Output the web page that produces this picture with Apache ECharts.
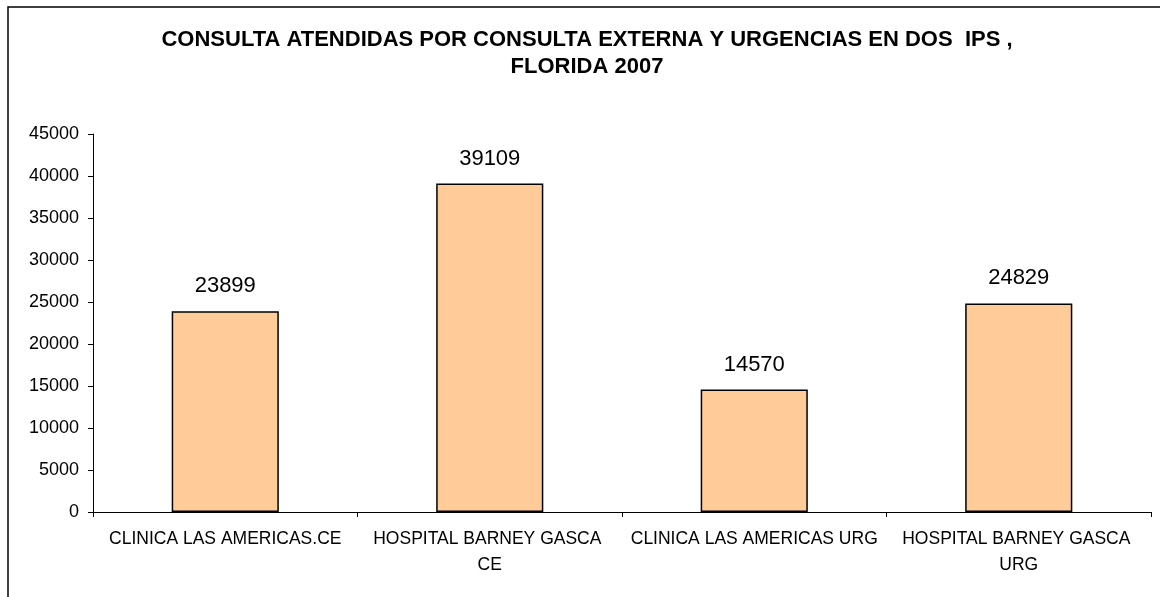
<!DOCTYPE html>
<html>
<head>
<meta charset="utf-8">
<script src="https://cdn.jsdelivr.net/npm/echarts@6/dist/echarts.min.js"></script>
<style>
  html, body { margin: 0; padding: 0; background: #fff; }
  #chart { width: 1160px; height: 597px; }
</style>
</head>
<body>
<div id="chart"></div>
<script>
var titleText = "CONSULTA ATENDIDAS POR CONSULTA EXTERNA Y URGENCIAS EN DOS  IPS ,\nFLORIDA 2007";
var categories = [
  "CLINICA LAS AMERICAS.CE",
  "HOSPITAL BARNEY GASCA CE",
  "CLINICA LAS AMERICAS URG",
  "HOSPITAL BARNEY GASCA URG"
];
var consultas = [23899, 39109, 14570, 24829];

var myChart = echarts.init(document.getElementById("chart"));
var font = "Arial, 'Liberation Sans', sans-serif";
var option = {
  animation: false,
  backgroundColor: "#fff",
  title: {
    text: titleText,
    left: 587,
    top: 26,
    textAlign: "center",
    padding: 0,
    textStyle: {
      fontFamily: font,
      fontSize: 22,
      fontWeight: "bold",
      color: "#000",
      lineHeight: 27
    }
  },
  graphic: [
    {
      type: "rect",
      shape: { x: 8, y: 7, width: 1170, height: 610 },
      style: { fill: "none", stroke: "#000", lineWidth: 1.5 },
      silent: true
    }
  ],
  grid: { left: 93, right: 9, top: 134, bottom: 85 },
  xAxis: {
    type: "category",
    data: categories,
    axisLine: { lineStyle: { color: "#000", width: 1 } },
    axisTick: { show: true, length: 5, lineStyle: { color: "#000" } },
    axisLabel: {
      interval: 0,
      margin: 14,
      width: 250,
      overflow: "break",
      lineHeight: 26,
      fontFamily: font,
      fontSize: 17.5,
      color: "#000"
    }
  },
  yAxis: {
    type: "value",
    min: 0,
    max: 45000,
    interval: 5000,
    splitLine: { show: false },
    axisLine: { show: true, lineStyle: { color: "#000", width: 1 } },
    axisTick: { show: true, length: 5, lineStyle: { color: "#000" } },
    axisLabel: {
      margin: 14,
      fontFamily: font,
      fontSize: 18,
      color: "#000",
      formatter: function (v) { return String(v); }
    }
  },
  series: [
    {
      type: "bar",
      data: consultas,
      barWidth: "40.5%",
      itemStyle: {
        color: "#FFCC99",
        borderColor: "#000",
        borderWidth: 1.5
      },
      label: {
        show: true,
        position: "top",
        distance: 14,
        fontFamily: font,
        fontSize: 22,
        color: "#000"
      }
    }
  ]
};
myChart.setOption(option);
</script>
</body>
</html>
